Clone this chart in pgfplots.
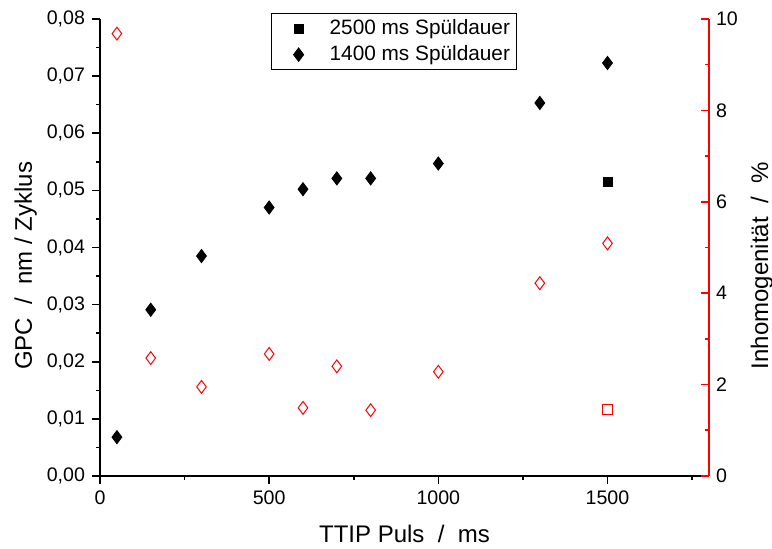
\documentclass[border=0pt]{standalone}
\usepackage{fontspec}
\setmainfont{Liberation Sans}
\usepackage{pgfplots}
\pgfplotsset{compat=1.18}
\usetikzlibrary{calc}

\begin{document}
\begin{tikzpicture}[font=\fontsize{9.8}{12}\selectfont]
\pgfplotsset{
  common/.style={
    scale only axis, width=304.5pt, height=228.5pt,
    xmin=0, xmax=1800,
    /pgf/number format/assume math mode=true,
    /pgf/number format/1000 sep={},
    major tick length=4pt, minor tick length=2pt,
  },
  wide legend/.style={
    legend image code/.code={%
      \path[draw=none, fill=none] (0pt,-3pt) (26pt,3pt);
      \draw[mark repeat=2, mark phase=2, ##1] plot coordinates {(0pt,0pt)(12.5pt,0pt)(25pt,0pt)};},
  },
}
% GPC (linke Achse)
\begin{axis}[
  common,
  ymin=0, ymax=0.08,
  axis x line*=bottom, axis y line*=left,
  axis line style={line width=1pt, -},
  tick style={line width=0.8pt, black},
  tick align=outside,
  xtick={0,500,1000,1500}, minor xtick={250,750,1250,1750},
  ytick={0,0.01,0.02,0.03,0.04,0.05,0.06,0.07,0.08},
  minor y tick num=1,
  scaled y ticks=false,
  yticklabel style={/pgf/number format/.cd, fixed, fixed zerofill, precision=2, use comma},
  xlabel={TTIP Puls\ \ /\ \ ms},
  ylabel={GPC\ \ /\ \ nm / Zyklus},
  every axis x label/.style={at={(axis description cs:0.5,-0.1466)}, anchor=base, font=\fontsize{12}{14}\selectfont},
  every axis y label/.style={at={(axis description cs:-0.1117,0.46)}, rotate=90, anchor=base, font=\fontsize{12}{14}\selectfont},
  legend style={at={(0.281,1.013)}, anchor=north west, draw=black, line width=0.5pt,
    font=\fontsize{10.4}{12}\selectfont, inner xsep=1pt, inner ysep=1pt, row sep=0pt},
  legend cell align=left,
]
\addplot[only marks, wide legend, mark=square*, mark size=2.25pt, black] coordinates {
  (1500,0.0514)
};
\addlegendentry{2500 ms Spüldauer}
\addplot[only marks, wide legend, mark=diamond*, mark size=3.3pt, black] coordinates {
  (50,0.0068) (150,0.0291) (300,0.0385) (500,0.0470) (600,0.0502)
  (700,0.0521) (800,0.0521) (1000,0.0547) (1300,0.0653) (1500,0.0723)
};
\addlegendentry{1400 ms Spüldauer}
\coordinate (O) at (rel axis cs:0,0);
\end{axis}
% Inhomogenitaet (rechte Achse)
\begin{axis}[
  common,
  ymin=0, ymax=10,
  axis x line=none, axis y line*=right,
  axis line style={red, line width=1pt, -},
  tick style={line width=0.8pt, red},
  tick align=inside,
  ytick={0,2,4,6,8,10}, minor y tick num=1,
  ylabel={Inhomogenität\ \ /\ \ \%},
  every axis y label/.style={at={(axis description cs:1.0969,0.46)}, rotate=90, anchor=base, font=\fontsize{12}{14}\selectfont},
]
\addplot[only marks, mark=square, mark size=2.4pt, red, mark options={line width=0.5pt}] coordinates {
  (1500,1.46)
};
\addplot[only marks, mark=diamond, mark size=3.2pt, red, mark options={line width=0.5pt}] coordinates {
  (50,9.68) (150,2.58) (300,1.95) (500,2.67) (600,1.49)
  (700,2.40) (800,1.44) (1000,2.28) (1300,4.22) (1500,5.09)
};
\end{axis}
\pgfresetboundingbox
\path ($(O)+(-50pt,-36.5pt)$) rectangle ($(O)+(336pt,238pt)$);
\end{tikzpicture}
\end{document}
